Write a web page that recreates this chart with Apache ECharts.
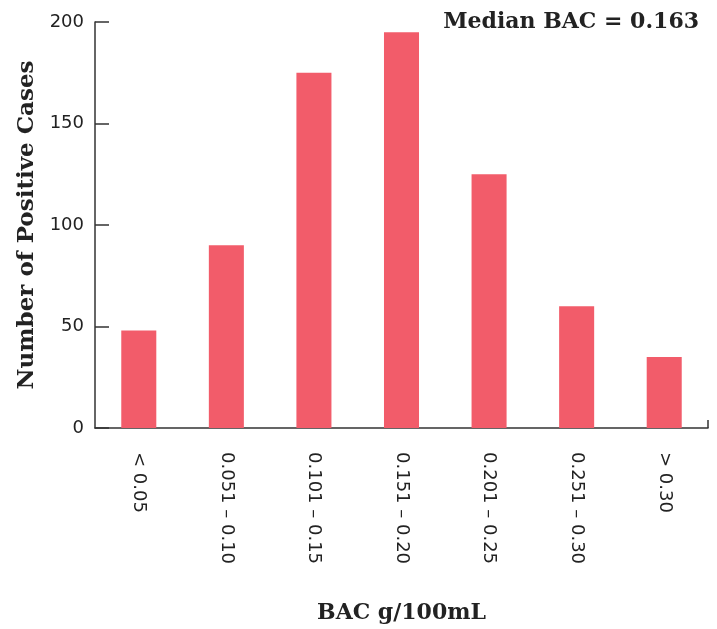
<!DOCTYPE html>
<html><head><meta charset="utf-8">
<script src="https://cdn.jsdelivr.net/npm/echarts@6/dist/echarts.min.js"></script>
<style>html,body{margin:0;padding:0;background:#fff}#c{width:717px;height:629px}</style>
</head><body><div id="c"></div>
<script>
const categories = ['< 0.05','0.051 – 0.10','0.101 – 0.15','0.151 – 0.20','0.201 – 0.25','0.251 – 0.30','> 0.30'];
const cases = [48, 90, 175, 195, 125, 60, 35];
const yTicks = [0, 50, 100, 150, 200];
const medianText = 'Median BAC = 0.163';

const chart = echarts.init(document.getElementById('c'));
chart.setOption({
  animation: false,
  grid: {left: 95, right: 9, top: 22, bottom: 201, outerBoundsMode: 'none', containLabel: false},
  title: {text: medianText, right: 13, top: 6,
    textStyle: {fontFamily: 'DejaVu Serif', fontWeight: 'bold', fontSize: 22, color: '#222'}},
  xAxis: {
    type: 'category', data: categories,
    name: 'BAC g/100mL', nameLocation: 'middle', nameGap: 174,
    nameTextStyle: {fontFamily: 'DejaVu Serif', fontWeight: 'bold', fontSize: 22, color: '#222'},
    axisLine: {lineStyle: {color: '#333', width: 1.5}},
    axisTick: {show: false},
    axisLabel: {rotate: -90, margin: 24, fontFamily: 'DejaVu Sans', fontSize: 18, color: '#222'}
  },
  yAxis: {
    type: 'value', min: yTicks[0], max: yTicks[yTicks.length-1], interval: 50,
    name: 'Number of Positive Cases', nameLocation: 'middle', nameGap: 56,
    nameTextStyle: {fontFamily: 'DejaVu Serif', fontWeight: 'bold', fontSize: 23, color: '#222'},
    axisLine: {show: true, lineStyle: {color: '#333', width: 1.5}},
    axisTick: {show: true, inside: true, length: 14, lineStyle: {color: '#333', width: 1.5}},
    splitLine: {show: false},
    axisLabel: {margin: 11, fontFamily: 'DejaVu Sans', fontSize: 18, color: '#222'}
  },
  series: [{
    type: 'bar', data: cases, barWidth: '40%',
    itemStyle: {color: '#F25C6A'}
  }],
  graphic: [{type: 'line', shape: {x1: 708, y1: 420, x2: 708, y2: 428}, style: {stroke: '#333', lineWidth: 1.5}}]
});
</script></body></html>
